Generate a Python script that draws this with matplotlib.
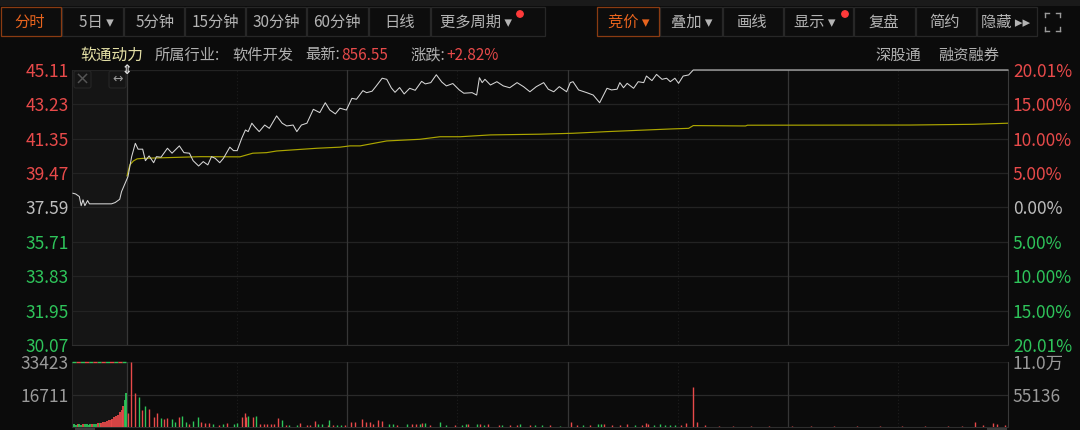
import matplotlib
matplotlib.use('Agg')
import matplotlib.pyplot as plt
from matplotlib.patches import Rectangle, Circle, FancyBboxPatch

plt.rcParams['font.family'] = ['Noto Sans CJK SC', 'DejaVu Sans']

# ---------------- data ----------------
prev_close = 37.59
price_t = [-59, -56, -52, -50, -48, -46, -43, -41, -17, -13,
           -8, -6, -2, 1, 5, 9, 12, 17, 20, 24,
           29, 32, 37, 44, 49, 57, 62, 68, 72, 78,
           83, 88, 92, 96, 101, 105, 112, 116, 120, 125,
           129, 132, 136, 139, 144, 150, 155, 163, 169, 174,
           181, 185, 190, 196, 203, 210, 216, 221, 227, 232,
           239, 245, 250, 257, 261, 267, 271, 278, 283, 288,
           292, 297, 302, 308, 314, 321, 325, 331, 337, 343,
           348, 355, 362, 367, 376, 381, 384, 387, 390, 396,
           403, 410, 417, 425, 432, 439, 446, 454, 459, 465,
           471, 479, 483, 486, 492, 501, 508, 515, 523, 528,
           534, 537, 541, 545, 552, 557, 563, 566, 572, 577,
           583, 588, 592, 597, 601, 606, 612, 617, 960]
price_v = [38.37, 38.33, 38.19, 37.69, 38.01, 37.69, 37.97, 37.79, 37.79, 37.86,
           38.04, 38.46, 38.92, 39.28, 40.37, 41.10, 40.78, 40.78, 40.15, 40.41,
           40.04, 40.37, 40.34, 40.83, 40.56, 40.96, 40.59, 40.56, 40.15, 39.86,
           40.10, 39.92, 40.37, 40.28, 40.04, 40.28, 40.89, 40.70, 40.70, 41.38,
           41.83, 41.74, 42.20, 42.01, 41.74, 42.10, 41.92, 42.60, 42.20, 42.05,
           42.10, 41.74, 42.10, 42.20, 42.96, 42.78, 43.32, 42.92, 42.71, 43.02,
           42.92, 43.56, 43.51, 43.98, 43.87, 43.95, 44.20, 44.66, 44.60, 44.13,
           43.89, 44.15, 43.80, 44.11, 44.00, 44.49, 44.35, 44.42, 44.85, 44.45,
           44.24, 44.37, 44.02, 43.84, 43.87, 43.74, 44.69, 44.42, 44.60, 44.29,
           44.47, 44.24, 44.14, 44.42, 44.20, 43.92, 44.20, 44.42, 44.06, 43.92,
           44.20, 43.92, 44.42, 44.47, 44.02, 43.87, 43.74, 43.32, 44.11, 44.02,
           44.06, 44.42, 44.14, 44.38, 44.11, 44.47, 44.42, 44.78, 44.53, 44.87,
           44.60, 44.66, 44.47, 44.66, 44.38, 44.78, 44.84, 45.11, 45.11]

avg_t = [0, 3, 7, 11, 18, 80, 123, 137, 152, 163, 207, 232, 243, 254, 283,
         319, 341, 363, 396, 450, 486, 523, 595, 612, 617, 674, 676, 853, 922, 960]
avg_v = [39.32, 39.92, 40.14, 40.25, 40.28, 40.37, 40.36, 40.56, 40.59, 40.68,
         40.83, 40.89, 40.96, 40.96, 41.23, 41.32, 41.46, 41.46, 41.56, 41.60,
         41.65, 41.74, 41.89, 41.92, 42.07, 42.05, 42.09, 42.10, 42.14, 42.20]

auc_t = [-58, -56, -54, -52, -50, -48, -46, -44, -42, -40, -38, -36, -34, -32, -30,
         -28, -26, -24, -22, -20, -18, -16, -14, -12, -10, -8, -6, -4, -2, -1]
auc_v = [1300, 1200, 1400, 1300, 1200, 1300, 1400, 1300, 1200, 1400, 1300, 1500, 1700, 1900, 2000,
         2200, 2500, 2800, 3100, 3400, 3800, 4300, 4900, 5600, 6400, 7500, 8800, 11000, 14000, 17300]
auc_c = "ggrggrgggg" + "rggrgr" + "rrrrrrrrrrrr" + "gg"

vol_t = [1, 4, 9, 13, 16, 20, 24, 29, 33, 37,
         40, 44, 49, 52, 57, 60, 64, 68, 72, 77,
         81, 85, 89, 94, 100, 105, 109, 116, 120, 125,
         128, 130, 132, 137, 140, 145, 149, 152, 157, 160,
         164, 169, 173, 177, 185, 189, 196, 199, 205, 208,
         212, 219, 220, 224, 229, 233, 237,
         244, 248, 256, 260, 265, 268, 273, 278, 285, 290,
         294, 305, 310, 315, 319, 321, 325, 330, 341, 348,
         357, 365, 369, 372, 381, 385, 389, 393, 405, 409,
         417, 425, 428, 439, 445, 452, 461, 472,
         484, 490, 497, 505, 513, 517, 520, 528, 537, 545,
         553, 561, 565, 568, 574, 581, 586, 592, 597, 604,
         609, 617, 621, 630, 645, 660, 680, 700, 725, 745,
         770, 795, 820, 845, 870, 895, 910, 924, 933, 944,
         948, 957]
vol_v = [7200, 33300, 17500, 15300, 8700, 10800, 9300, 5100, 7200, 4500,
         4000, 4500, 4100, 2700, 5100, 5700, 2700, 1500, 3200, 5000,
         2700, 2200, 1900, 1500, 1000, 1300, 2200, 1300, 2200, 5300,
         7400, 5100, 5700, 5100, 5700, 1300, 1300, 1600, 1600, 1300,
         4500, 3600, 1000, 900, 1000, 2200, 1000, 900, 3200, 1500,
         1500, 900, 3600, 1000, 900, 900, 1000,
         2700, 2700, 4100, 2600, 2700, 1700, 3600, 3100, 1700, 1700,
         1000, 1700, 1300, 1300, 1300, 2200, 2200, 1000, 2700, 900,
         900, 900, 1400, 1400, 1400, 1400, 900, 1400, 900, 900,
         900, 900, 1400, 900, 900, 900, 900, 600,
         2600, 900, 900, 900, 1400, 1400, 1400, 900, 900, 1400,
         900, 900, 2100, 1400, 900, 1400, 900, 900, 900, 900,
         2100, 20700, 2600, 900, 400, 300, 300, 300, 300, 300,
         300, 300, 300, 300, 300, 300, 400, 2600, 900, 2100,
         1400, 900]
vol_c = ("rrrgrgrrrg" + "rrggrggrgg" + "rrrgrgrggr" + "rrgrgrrrrr" + "rgrggrrrrg" + "grgrggr"
         + "rrrrrrrrgg" + "rgrrgrgrgg" + "rggrgrgrrg" + "rrgrggrg"
         + "rrgrggrrrr" + "grrrgggggr" + "rrrrrrrrrr" + "rrrrrrrrrr" + "rr")

left_ticks = [45.11, 43.23, 41.35, 39.47, 37.59, 35.71, 33.83, 31.95, 30.07]
left_labels = ["45.11", "43.23", "41.35", "39.47", "37.59", "35.71", "33.83", "31.95", "30.07"]
right_labels = ["20.01%", "15.00%", "10.00%", "5.00%", "0.00%", "5.00%", "10.00%", "15.00%", "20.01%"]
vol_max = 33423
vol_ticks = [33423, 16711]
vol_left_labels = ["33423", "16711"]
vol_right_labels = ["11.0万", "55136"]

day_starts = [0, 240, 480, 720]
half_days = [120, 360, 600, 840]

# ---------------- style ----------------
BG = '#0b0b0b'
RED = '#e84a4a'
GREEN = '#2ec45a'
GRAY = '#bdbdbd'
W, H = 1080, 430

fig = plt.figure(figsize=(W / 100, H / 100), dpi=100, facecolor=BG)


def rect(x0, y0, x1, y1):
    return [x0 / W, 1 - y1 / H, (x1 - x0) / W, (y1 - y0) / H]


def tick_color(p):
    if abs(p - prev_close) < 1e-6:
        return GRAY
    return RED if p > prev_close else GREEN


# ---------- price panel ----------
ax = fig.add_axes(rect(72, 70, 1008, 345))
ax.set_facecolor(BG)
ax.set_xlim(-60, 960)
ax.set_ylim(30.07, 45.11)
ax.axvspan(-60, 0, color='#151515', zorder=0, lw=0)
for y in left_ticks:
    ax.axhline(y, color='#232323', lw=0.9, zorder=1)
for d in day_starts:
    ax.axvline(d, color='#363636', lw=0.9, zorder=1)
for d in half_days:
    ax.axvline(d, color='#1e1e1e', lw=0.8, ls=(0, (1, 2)), zorder=1)
ax.plot(avg_t, avg_v, color='#aca600', lw=0.85, zorder=3)
ax.plot(price_t, price_v, color='#d6d6d6', lw=0.75, zorder=4, clip_on=False)
ax.spines['top'].set_visible(False)
ax.spines['left'].set_color('#262626')
ax.spines['right'].set_color('#3a3a3a')
ax.spines['bottom'].set_color('#2e2e2e')
ax.set_xticks([])
ax.set_yticks(left_ticks)
ax.set_yticklabels(left_labels)
ax.tick_params(axis='y', length=0, pad=2.5, labelsize=12.5)
for lab, p in zip(ax.get_yticklabels(), left_ticks):
    lab.set_color(tick_color(p))
axr = ax.twinx()
axr.set_ylim(30.07, 45.11)
axr.set_yticks(left_ticks)
axr.set_yticklabels(right_labels)
axr.tick_params(axis='y', length=0, pad=3.5, labelsize=12.5)
for lab, p in zip(axr.get_yticklabels(), left_ticks):
    lab.set_color(tick_color(p))
for s in axr.spines.values():
    s.set_visible(False)

# ---------- volume panel ----------
axv = fig.add_axes(rect(72, 362, 1008, 427))
axv.set_facecolor(BG)
axv.set_xlim(-60, 960)
axv.set_ylim(0, vol_max)
axv.axvspan(-60, 0, color='#151515', zorder=0, lw=0)
axv.axhline(vol_ticks[1], color='#2a2a2a', lw=0.9, zorder=1)
axv.axhline(vol_ticks[0], color='#1c1c1c', lw=0.9, zorder=1)
for d in day_starts:
    axv.axvline(d, color='#363636', lw=0.9, zorder=1)
for d in half_days:
    axv.axvline(d, color='#1e1e1e', lw=0.8, ls=(0, (1, 2)), zorder=1)
axv.vlines(auc_t, 0, auc_v, colors=[RED if c == 'r' else GREEN for c in auc_c], lw=1.3, zorder=3)
axv.vlines(vol_t, 0, vol_v, colors=[RED if c == 'r' else GREEN for c in vol_c], lw=1.0, zorder=3)
axv.plot([-60, -1], [vol_max, vol_max], color=GREEN, lw=1.0, ls=(0, (3, 3)), zorder=3, clip_on=False)
axv.plot([-60, -1], [vol_max, vol_max], color=RED, lw=1.0, ls=(3, (3, 3)), zorder=3, clip_on=False)
axv.spines['top'].set_visible(False)
axv.spines['left'].set_color('#262626')
axv.spines['right'].set_color('#3a3a3a')
axv.spines['bottom'].set_color('#2e2e2e')
axv.set_xticks([])
axv.set_yticks(vol_ticks)
axv.set_yticklabels(vol_left_labels)
axv.tick_params(axis='y', length=0, pad=2.5, labelsize=12.5, labelcolor='#9a9a9a')
axvr = axv.twinx()
axvr.set_ylim(0, vol_max)
axvr.set_yticks(vol_ticks)
axvr.set_yticklabels(vol_right_labels)
axvr.tick_params(axis='y', length=0, pad=3.5, labelsize=12.5, labelcolor='#9a9a9a')
for s in axvr.spines.values():
    s.set_visible(False)

# ---------- overlay: toolbar & header ----------
ov = fig.add_axes([0, 0, 1, 1])
ov.set_xlim(0, W)
ov.set_ylim(H, 0)
ov.axis('off')
ov.patch.set_alpha(0)

ov.add_patch(Rectangle((0, 0), W, 6, color='#1a1a1a', lw=0))
ORANGE_T = '#e8641e'
ORANGE_B = '#8a3b12'
buttons = [("分时", 1, 61, 30, True), ("5日 ▾", 62, 123, 96, False), ("5分钟", 124, 184, 155, False),
           ("15分钟", 185, 245, 215, False), ("30分钟", 246, 306, 276, False), ("60分钟", 307, 368, 337, False),
           ("日线", 369, 430, 400, False), ("更多周期 ▾", 431, 545, 476, False),
           ("竞价 ▾", 597, 659, 629, True), ("叠加 ▾", 660, 722, 692, False), ("画线", 723, 783, 752, False),
           ("显示 ▾", 784, 853, 815, False), ("复盘", 854, 915, 884, False), ("简约", 916, 976, 945, False),
           ("隐藏 ▸▸", 977, 1037, 1006, False)]
for label, x0, x1, xc, active in buttons:
    ov.add_patch(Rectangle((x0, 7), x1 - x0, 29, facecolor='#0d0d0d',
                           edgecolor=ORANGE_B if active else '#272727', lw=0.9, zorder=2 if active else 1))
    ov.text(xc, 22, label, color=ORANGE_T if active else '#b4b4b4', fontsize=11,
            ha='center', va='center', zorder=3)
ov.add_patch(Circle((520, 14), 3.2, color='#ff3a3a', zorder=4))
ov.add_patch(Circle((845, 14), 3.2, color='#ff3a3a', zorder=4))
# expand icon
for (cx, cy, dx, dy) in [(1045, 13, 1, 1), (1060, 13, -1, 1), (1045, 31, 1, -1), (1060, 31, -1, -1)]:
    ov.plot([cx, cx + 4 * dx], [cy, cy], color='#9a9a9a', lw=1)
    ov.plot([cx, cx], [cy, cy + 4 * dy], color='#9a9a9a', lw=1)

# header
HS = 11
ov.text(80, 55, "软通动力", color='#e4e0a6', fontsize=11.3, ha='left', va='center')
ov.text(155, 55, "所属行业:", color='#b0b0b0', fontsize=HS, ha='left', va='center')
ov.text(232, 55, "软件开发", color='#b0b0b0', fontsize=HS, ha='left', va='center')
ov.text(340, 55, "最新:", color='#b0b0b0', fontsize=HS, ha='right', va='center')
ov.text(341, 55, "856.55", color=RED, fontsize=HS, ha='left', va='center')
ov.text(445, 55, "涨跌:", color='#b0b0b0', fontsize=HS, ha='right', va='center')
ov.text(446, 55, "+2.82%", color=RED, fontsize=HS, ha='left', va='center')
ov.text(875, 55, "深股通", color='#b0b0b0', fontsize=HS, ha='left', va='center')
ov.text(938, 55, "融资融券", color='#b0b0b0', fontsize=HS, ha='left', va='center')

# auction area icons
ov.add_patch(FancyBboxPatch((74, 71), 17, 17, boxstyle='round,pad=0,rounding_size=2',
                            facecolor='none', edgecolor='#262626', lw=0.8))
ov.text(82.5, 79.5, "×", color='#555555', fontsize=13, ha='center', va='center', family='DejaVu Sans')
ov.add_patch(FancyBboxPatch((109, 71), 17, 17, boxstyle='round,pad=0,rounding_size=2',
                            facecolor='none', edgecolor='#262626', lw=0.8))
ov.text(117.5, 79.5, "↔", color='#9a9a9a', fontsize=9, ha='center', va='center', family='DejaVu Sans')
ov.text(127, 70, "⇕", color='#e0e0e0', fontsize=9, ha='center', va='center', family='DejaVu Sans',
        fontweight='bold')

# scroll bars at bottom
ov.add_patch(Rectangle((75, 427.5), 20, 2, color='#3a3a3a', lw=0))
ov.add_patch(Rectangle((987, 427.5), 20, 2, color='#3a3a3a', lw=0))

fig.savefig('out.png', dpi=100, facecolor=BG)
